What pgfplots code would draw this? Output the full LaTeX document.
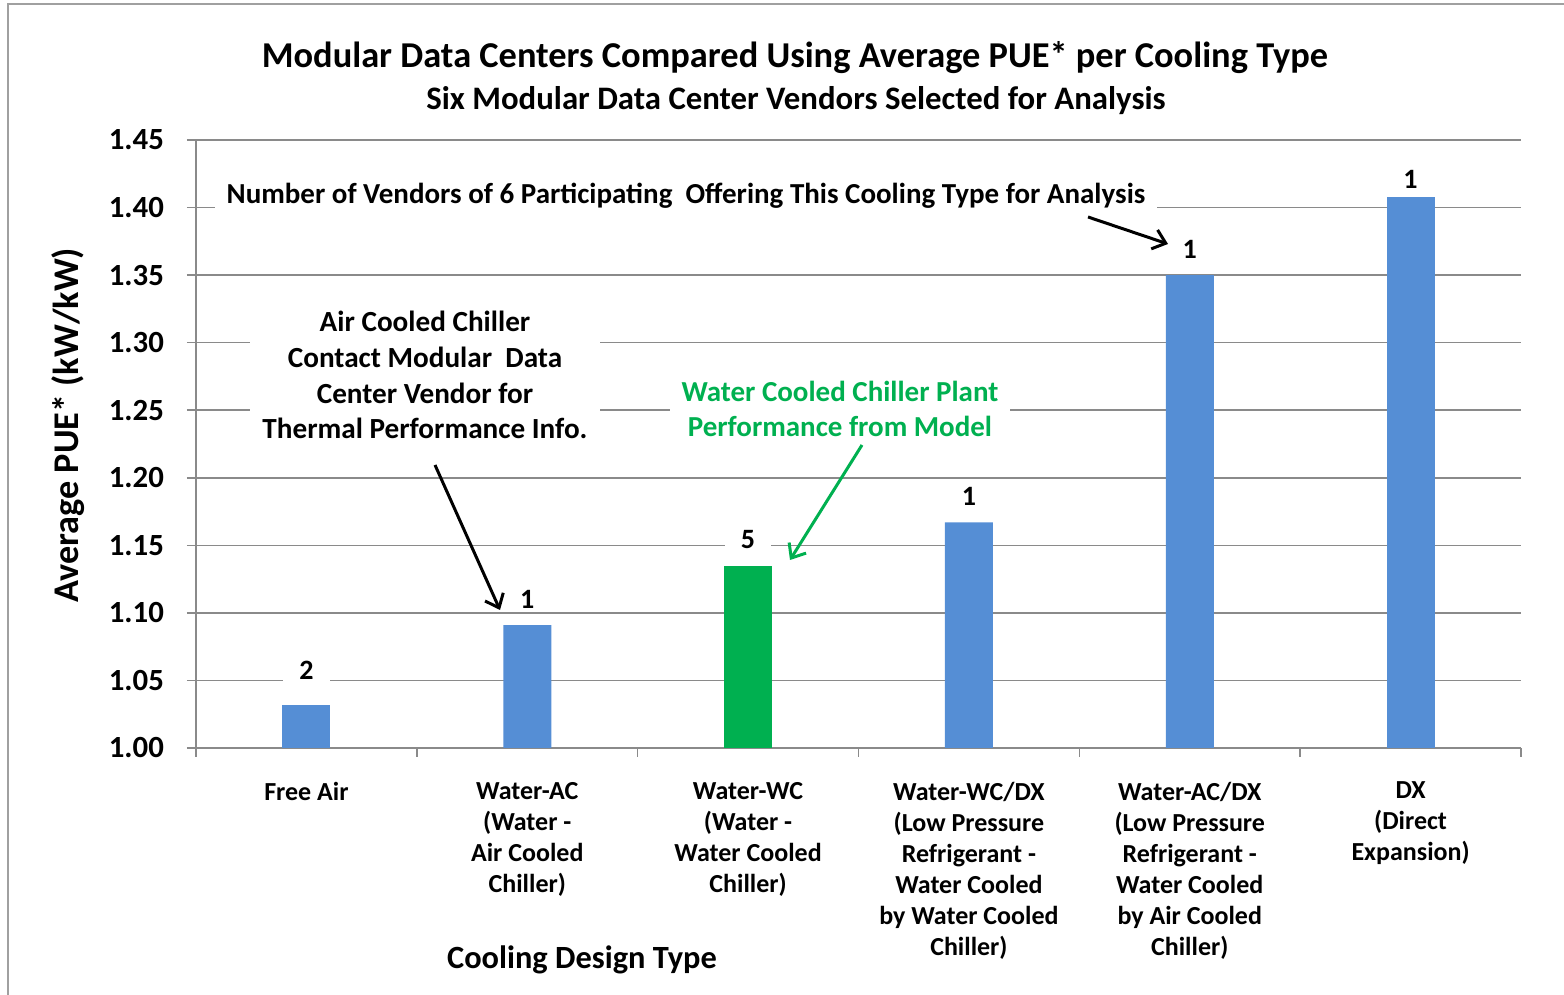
\documentclass[border=0pt]{standalone}
\usepackage{pgfplots}
\pgfplotsset{compat=1.18}
\usepackage{pgfplotstable}
\usepackage{fontspec}
\setmainfont{Carlito}[UprightFont={* Bold}, BoldFont={* Bold}]
\usetikzlibrary{arrows.meta}
\definecolor{barblue}{HTML}{558ED5}
\definecolor{bargreen}{HTML}{00B050}
\definecolor{gridgray}{HTML}{8A8A8A}
\definecolor{framegray}{HTML}{A0A0A0}

\pgfplotstableread{
x y n
0 1.032 2
}\blueA
\pgfplotstableread{
x y n
1 1.091 1
3 1.167 1
4 1.350 1
}\blueB
\pgfplotstableread{
x y n
5 1.408 1
}\blueC
\pgfplotstableread{
x y n
2 1.135 5
}\greendata

\begin{document}
\begin{tikzpicture}[x=0.5pt,y=0.5pt]
\useasboundingbox (0,0) rectangle (1564,995);
\draw[framegray, line width=0.8pt] (8,0) -- (8,991) -- (1564,991);
\begin{axis}[
  at={(98pt,123.5pt)}, anchor=south west,
  scale only axis, width=662.5pt, height=304pt,
  xmin=-0.5, xmax=5.5, ymin=1, ymax=1.45,
  axis x line*=bottom, axis y line*=left,
  axis line style={gridgray, line width=0.75pt},
  ytick={1,1.05,1.1,1.15,1.2,1.25,1.3,1.35,1.4,1.45},
  /pgf/number format/fixed, /pgf/number format/fixed zerofill, /pgf/number format/precision=2, /pgf/number format/assume math mode=true,
  yticklabel style={font=\bfseries\fontsize{15.4}{17}\selectfont, xshift=-8pt},
  ymajorgrids, grid style={gridgray, line width=0.75pt},
  tick align=outside,
  major tick length=4.5pt, minor tick length=4.5pt,
  major y tick style={gridgray, line width=0.75pt},
  major x tick style={draw=none},
  minor x tick style={gridgray, line width=0.75pt},
  xtick={0,1,2,3,4,5},
  minor xtick={-0.5,0.5,1.5,2.5,3.5,4.5,5.5},
  xticklabels={{Free Air},{Water-AC\\(Water -\\Air Cooled\\Chiller)},{Water-WC\\(Water -\\Water Cooled\\Chiller)},{Water-WC/DX\\(Low Pressure\\Refrigerant -\\Water Cooled\\by Water Cooled\\Chiller)},{Water-AC/DX\\(Low Pressure\\Refrigerant -\\Water Cooled\\by Air Cooled\\Chiller)},{DX\\(Direct\\Expansion)}},
  xticklabel style={align=center, font=\bfseries\fontsize{13}{15.5}\selectfont, yshift=-9pt},
  ybar, bar width=24pt,
  nodes near coords, point meta=explicit symbolic,
  every node near coord/.append style={font=\bfseries\fontsize{14}{16}\selectfont, fill=white, anchor=center, inner xsep=8pt, inner ysep=2pt, text=black},
]
\addplot[fill=barblue, draw=none, bar shift=0pt, every node near coord/.append style={yshift=17pt}] table[x=x, y=y, meta=n] {\blueA};
\addplot[fill=barblue, draw=none, bar shift=0pt, every node near coord/.append style={yshift=13pt}] table[x=x, y=y, meta=n] {\blueB};
\addplot[fill=barblue, draw=none, bar shift=0pt, every node near coord/.append style={yshift=8.5pt}] table[x=x, y=y, meta=n] {\blueC};
\addplot[fill=bargreen, draw=none, bar shift=0pt, every node near coord/.append style={yshift=13pt}] table[x=x, y=y, meta=n] {\greendata};
\end{axis}
% titles
\node[font=\bfseries\fontsize{18.2}{22}\selectfont] at (795,937) {Modular Data Centers Compared Using Average PUE* per Cooling Type};
\node[font=\bfseries\fontsize{16.4}{19}\selectfont] at (796,894) {Six Modular Data Center Vendors Selected for Analysis};
\node[font=\bfseries\fontsize{18.1}{21}\selectfont, rotate=90] at (68,570) {Average PUE* (kW/kW)};
\node[font=\bfseries\fontsize{16.2}{19}\selectfont] at (582,35) {Cooling Design Type};
% annotations
\node[font=\bfseries\fontsize{14.5}{18}\selectfont, fill=white, inner xsep=6pt] at (686,799) {Number of Vendors of 6 Participating\ \ Offering This Cooling Type for Analysis};
\node[font=\bfseries\fontsize{14.6}{17.9}\selectfont, fill=white, align=center, inner xsep=6pt] at (425,620) {Air Cooled Chiller\\Contact Modular\ \ Data\\Center Vendor for\\Thermal Performance Info.};
\node[font=\bfseries\fontsize{14.5}{17.9}\selectfont, fill=white, align=center, text=bargreen, inner xsep=6pt] at (840,586) {Water Cooled Chiller Plant\\Performance from Model};
\draw[line width=1.5pt, -{Straight Barb[length=6pt,width=10pt]}] (435,530) -- (500,385);
\draw[line width=1.5pt, -{Straight Barb[length=6pt,width=10pt]}] (1088,778) -- (1168,751);
\draw[bargreen, line width=1.5pt, -{Straight Barb[length=6pt,width=10pt]}] (862,550) -- (790,435);
\end{tikzpicture}
\end{document}
